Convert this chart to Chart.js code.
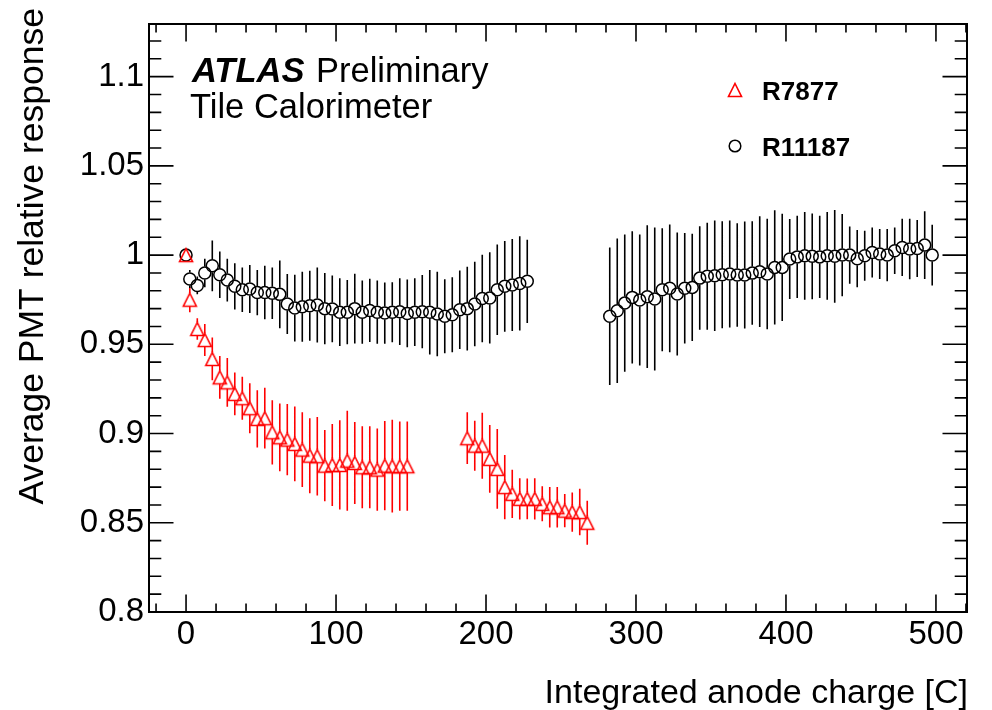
<!DOCTYPE html>
<html><head><meta charset="utf-8">
<script src="https://cdn.jsdelivr.net/npm/chart.js@4.4.1/dist/chart.umd.min.js"></script>
<style>html,body{margin:0;padding:0;background:#fff;}canvas{display:block;}</style>
</head><body>
<canvas id="c" width="992" height="710"></canvas>
<script>
// ---- data ----
const r7877X = [0, 2.5, 7.5, 12.5, 17.5, 22.5, 27.5, 32.5, 37.5, 42.5, 47.5, 52.5, 57.5, 62.5, 67.5, 72.5, 77.5, 82.5, 87.5, 92.5, 97.5, 102.5, 107.5, 112.5, 117.5, 122.5, 127.5, 132.5, 137.5, 142.5, 147.5,
  187.5, 192.5, 197.5, 202.5, 207.5, 212.5, 217.5, 222.5, 227.5, 232.5, 237.5, 242.5, 247.5, 252.5, 257.5, 262.5, 267.5];
const r7877Y = [1.0, 0.975, 0.9586, 0.9524, 0.9418, 0.9315, 0.9287, 0.9222, 0.9198, 0.9142, 0.9082, 0.9086, 0.9007, 0.8979, 0.8966, 0.8942, 0.891, 0.8876, 0.8873, 0.882, 0.8824, 0.8824, 0.8848, 0.8835, 0.8811, 0.8811, 0.8798, 0.882, 0.8817, 0.8817, 0.8817,
  0.8974, 0.8932, 0.8932, 0.8858, 0.8802, 0.870, 0.8662, 0.8634, 0.8634, 0.8634, 0.8606, 0.8587, 0.8587, 0.8568, 0.856, 0.856, 0.850];
const r7877Err = [0, 0.007, 0.006, 0.009, 0.012, 0.012, 0.0137, 0.012, 0.012, 0.014, 0.016, 0.017, 0.018, 0.019, 0.020, 0.021, 0.021, 0.021, 0.022, 0.020, 0.023, 0.025, 0.028, 0.023, 0.023, 0.023, 0.023, 0.025, 0.026, 0.025, 0.025,
  0.0145, 0.014, 0.0185, 0.019, 0.0224, 0.018, 0.0135, 0.0116, 0.0114, 0.0116, 0.0098, 0.0114, 0.0114, 0.0093, 0.011, 0.013, 0.0123];

const r11187X = [0, 2.5, 7.5, 12.5, 17.5, 22.5, 27.5, 32.5, 37.5, 42.5, 47.5, 52.5, 57.5, 62.5, 67.5, 72.5, 77.5, 82.5, 87.5, 92.5, 97.5, 102.5, 107.5, 112.5, 117.5, 122.5, 127.5, 132.5, 137.5, 142.5, 147.5, 152.5, 157.5, 162.5, 167.5, 172.5, 177.5, 182.5, 187.5, 192.5, 197.5, 202.5, 207.5, 212.5, 217.5, 222.5, 227.5,
  282.5, 287.5, 292.5, 297.5, 302.5, 307.5, 312.5, 317.5, 322.5, 327.5, 332.5, 337.5, 342.5, 347.5, 352.5, 357.5, 362.5, 367.5, 372.5, 377.5, 382.5, 387.5, 392.5, 397.5, 402.5, 407.5, 412.5, 417.5, 422.5, 427.5, 432.5, 437.5, 442.5, 447.5, 452.5, 457.5, 462.5, 467.5, 472.5, 477.5, 482.5, 487.5, 492.5, 497.5];
const r11187Y = [1.0, 0.9866, 0.983, 0.990, 0.994, 0.989, 0.986, 0.9825, 0.9806, 0.981, 0.979, 0.979, 0.9786, 0.978, 0.9726, 0.9703, 0.971, 0.9716, 0.972, 0.970, 0.9698, 0.968, 0.968, 0.970, 0.968, 0.969, 0.968, 0.9675, 0.968, 0.9683, 0.9673, 0.968, 0.9683, 0.968, 0.967, 0.9657, 0.9666, 0.9694, 0.970, 0.9726, 0.9757, 0.976, 0.9806, 0.9825, 0.9832, 0.9841, 0.9853,
  0.9657, 0.9688, 0.9731, 0.9763, 0.9748, 0.9767, 0.9754, 0.9806, 0.9814, 0.9782, 0.9814, 0.9819, 0.9871, 0.9881, 0.9884, 0.989, 0.9894, 0.9888, 0.9888, 0.9899, 0.9907, 0.9894, 0.9931, 0.9931, 0.9978, 0.999, 0.9996, 0.9993, 0.999, 0.9996, 0.9993, 1.0, 1.0, 0.998, 0.9996, 1.0015, 1.0006, 1.0, 1.0024, 1.0043, 1.0034, 1.0037, 1.0056, 1.0];
const r11187Err = [0, 0.005, 0.005, 0.008, 0.0142, 0.013, 0.012, 0.013, 0.0125, 0.0135, 0.0127, 0.015, 0.0144, 0.019, 0.0168, 0.0187, 0.0196, 0.0196, 0.021, 0.020, 0.0187, 0.019, 0.018, 0.0196, 0.0177, 0.0177, 0.0177, 0.0172, 0.0168, 0.0187, 0.019, 0.019, 0.0205, 0.0237, 0.0237, 0.0207, 0.021, 0.022, 0.0235, 0.0237, 0.0245, 0.0256, 0.0254, 0.0254, 0.0258, 0.0264, 0.0233,
  0.0385, 0.0405, 0.0385, 0.037, 0.0367, 0.040, 0.040, 0.0345, 0.0358, 0.0345, 0.031, 0.030, 0.029, 0.030, 0.031, 0.030, 0.030, 0.029, 0.030, 0.029, 0.031, 0.031, 0.032, 0.030, 0.0224, 0.023, 0.0246, 0.024, 0.023, 0.0246, 0.026, 0.023, 0.016, 0.016, 0.014, 0.014, 0.014, 0.0146, 0.013, 0.016, 0.017, 0.016, 0.019, 0.017];

const seriesNames = ['R7877', 'R11187'];
const xAxisTitle = 'Integrated anode charge [C]';
const yAxisTitle = 'Average PMT relative response';

// ---- styling ----
const FONT = '"Liberation Sans", Arial, Helvetica, sans-serif';
const RED = '#ff0000';

function makeTriangle() {
  const c = document.createElement('canvas');
  c.width = 18; c.height = 18;
  const g = c.getContext('2d');
  g.strokeStyle = RED; g.lineWidth = 1.6;
  g.beginPath();
  g.moveTo(9, 2.5); g.lineTo(15.5, 15.5); g.lineTo(2.5, 15.5); g.closePath();
  g.stroke();
  return c;
}
const triangleImg = makeTriangle();

function pts(xs, ys, es) { return xs.map((x, i) => ({ x: x, y: ys[i], err: es[i] })); }

const errorBars = {
  id: 'errorBars',
  beforeDatasetsDraw(chart) {
    const { ctx, scales: { y } } = chart;
    ctx.save();
    chart.data.datasets.forEach((ds, di) => {
      const meta = chart.getDatasetMeta(di);
      ctx.strokeStyle = ds.borderColor;
      ctx.lineWidth = 1.6;
      ctx.beginPath();
      meta.data.forEach((pt, i) => {
        const d = ds.data[i];
        if (!d.err) return;
        const top = y.getPixelForValue(d.y + d.err);
        const bot = y.getPixelForValue(d.y - d.err);
        const g = ds.errGap;
        if (pt.y - g > top) { ctx.moveTo(pt.x, top); ctx.lineTo(pt.x, pt.y - g); }
        if (pt.y + g < bot) { ctx.moveTo(pt.x, pt.y + g); ctx.lineTo(pt.x, bot); }
      });
      ctx.stroke();
    });
    ctx.restore();
  }
};

const frameTicks = {
  id: 'frameTicks',
  afterDatasetsDraw(chart) {
    const { ctx, chartArea: a, scales: { x, y } } = chart;
    ctx.save();
    ctx.strokeStyle = '#000';
    ctx.lineWidth = 1.6;
    ctx.beginPath();
    const xMaj = 17.5, xMin = 8.5, yMaj = 24.5, yMin = 12.3;
    x.ticks.forEach(t => {
      const p = x.getPixelForValue(t.value);
      ctx.moveTo(p, a.bottom); ctx.lineTo(p, a.bottom - xMaj);
      ctx.moveTo(p, a.top); ctx.lineTo(p, a.top + xMaj);
    });
    for (let v = Math.ceil(x.min / 20) * 20; v <= x.max; v += 20) {
      if (v % 100 === 0) continue;
      const p = x.getPixelForValue(v);
      ctx.moveTo(p, a.bottom); ctx.lineTo(p, a.bottom - xMin);
      ctx.moveTo(p, a.top); ctx.lineTo(p, a.top + xMin);
    }
    y.ticks.forEach(t => {
      const p = y.getPixelForValue(t.value);
      ctx.moveTo(a.left, p); ctx.lineTo(a.left + yMaj, p);
      ctx.moveTo(a.right, p); ctx.lineTo(a.right - yMaj, p);
    });
    for (let k = Math.ceil(y.min * 100 + 1e-6); k <= y.max * 100; k++) {
      if (k % 5 === 0) continue;
      const p = y.getPixelForValue(k / 100);
      ctx.moveTo(a.left, p); ctx.lineTo(a.left + yMin, p);
      ctx.moveTo(a.right, p); ctx.lineTo(a.right - yMin, p);
    }
    ctx.stroke();
    ctx.lineWidth = 2;
    ctx.strokeRect(a.left, a.top, a.right - a.left, a.bottom - a.top);
    ctx.restore();
  }
};

const annotations = {
  id: 'annotations',
  afterDraw(chart) {
    const { ctx } = chart;
    ctx.save();
    ctx.fillStyle = '#000';
    ctx.textBaseline = 'alphabetic';
    // ATLAS label
    ctx.textAlign = 'left';
    ctx.font = 'italic bold 34.5px ' + FONT;
    ctx.fillText('ATLAS', 192, 82);
    ctx.font = '34.5px ' + FONT;
    ctx.fillText('Preliminary', 316, 82);
    ctx.fillText('Tile Calorimeter', 190, 118);
    // legend
    ctx.drawImage(triangleImg, 735 - 9, 90 - 9);
    ctx.beginPath();
    ctx.strokeStyle = '#000'; ctx.lineWidth = 1.5;
    ctx.arc(735, 146, 5.8, 0, Math.PI * 2);
    ctx.stroke();
    ctx.font = 'bold 26px ' + FONT;
    ctx.fillText(seriesNames[0], 762, 99.5);
    ctx.fillText(seriesNames[1], 762, 155.5);
    // axis titles
    ctx.font = '34px ' + FONT;
    ctx.textAlign = 'right';
    ctx.fillText(xAxisTitle, 968, 703);
    ctx.font = '35.5px ' + FONT;
    ctx.translate(43, 8);
    ctx.rotate(-Math.PI / 2);
    ctx.fillText(yAxisTitle, 0, 0);
    ctx.restore();
  }
};

new Chart(document.getElementById('c'), {
  type: 'scatter',
  data: {
    datasets: [
      { label: seriesNames[0], data: pts(r7877X, r7877Y, r7877Err), borderColor: RED, backgroundColor: 'rgba(0,0,0,0)',
        pointStyle: triangleImg, pointRadius: 7, errGap: 6.5 },
      { label: seriesNames[1], data: pts(r11187X, r11187Y, r11187Err), borderColor: '#000', backgroundColor: 'rgba(0,0,0,0)',
        pointStyle: 'circle', pointRadius: 6, borderWidth: 1.5, errGap: 6.5 }
    ]
  },
  options: {
    responsive: false, animation: false, devicePixelRatio: 1,
    layout: { padding: { left: 0, top: 24, right: 25, bottom: 0 } },
    plugins: { legend: { display: false }, tooltip: { enabled: false } },
    scales: {
      x: {
        type: 'linear', min: -24.7, max: 520.7,
        grid: { display: false, drawTicks: false }, border: { display: false },
        ticks: { stepSize: 100, includeBounds: false, padding: 3, color: '#000', maxRotation: 0, autoSkip: false,
          font: { family: FONT, size: 33 }, callback: v => String(v) },
        afterFit: s => { s.height = 98; s.paddingLeft = 0; s.paddingRight = 0; }
      },
      y: {
        type: 'linear', min: 0.8, max: 1.1295,
        grid: { display: false, drawTicks: false }, border: { display: false },
        ticks: { stepSize: 0.05, includeBounds: false, padding: 5, color: '#000', autoSkip: false,
          font: { family: FONT, size: 33 }, callback: v => String(+v.toFixed(2)) },
        afterFit: s => { s.width = 149; s.paddingTop = 0; s.paddingBottom = 0; }
      }
    }
  },
  plugins: [errorBars, frameTicks, annotations]
});
</script>
</body></html>
